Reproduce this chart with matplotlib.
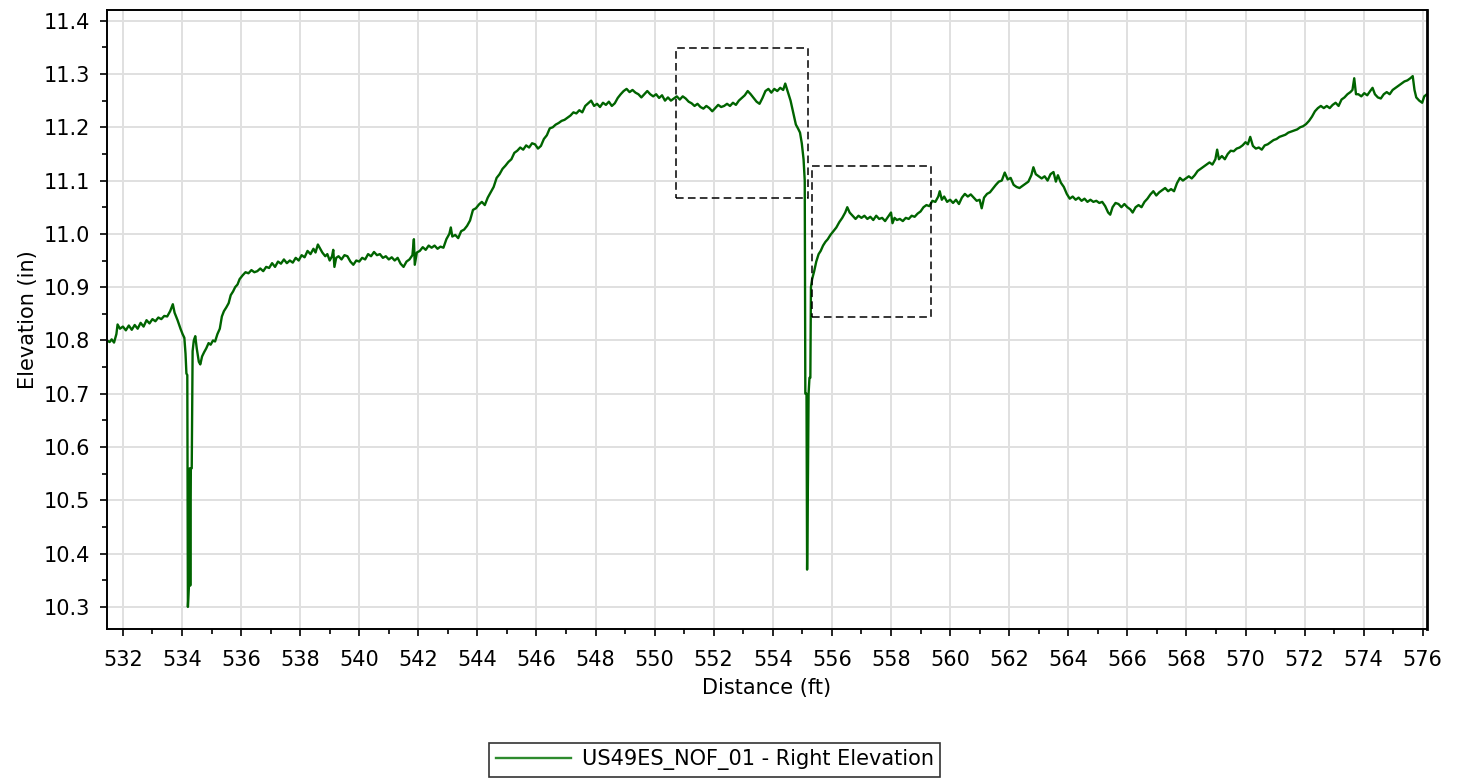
import matplotlib
matplotlib.use("Agg")
import matplotlib.pyplot as plt
from matplotlib.patches import Rectangle
from matplotlib.ticker import MultipleLocator

# data (distance in ft, elevation in in)
dist = [
    531.46, 531.55, 531.62, 531.70, 531.78, 531.82, 531.90, 532.00, 532.10, 532.20,
    532.30, 532.40, 532.50, 532.60, 532.70, 532.80, 532.90, 533.00, 533.10, 533.20,
    533.30, 533.40, 533.50, 533.60, 533.69, 533.75, 533.85, 533.95, 534.02, 534.08,
    534.12, 534.15, 534.18, 534.20, 534.24, 534.26, 534.28, 534.30, 534.33, 534.36,
    534.40, 534.45, 534.50, 534.57, 534.62, 534.68, 534.75, 534.82, 534.90, 534.97,
    535.05, 535.12, 535.20, 535.28, 535.35, 535.42, 535.50, 535.58, 535.65, 535.73,
    535.80, 535.88, 535.95, 536.05, 536.15, 536.25, 536.35, 536.45, 536.55, 536.65,
    536.75, 536.85, 536.95, 537.05, 537.15, 537.25, 537.35, 537.45, 537.55, 537.65,
    537.75, 537.85, 537.95, 538.05, 538.15, 538.25, 538.35, 538.45, 538.52, 538.60,
    538.68, 538.75, 538.85, 538.92, 539.00, 539.08, 539.12, 539.16, 539.22, 539.30,
    539.40, 539.50, 539.60, 539.70, 539.80, 539.90, 540.00, 540.10, 540.20, 540.30,
    540.40, 540.50, 540.60, 540.70, 540.80, 540.90, 541.00, 541.10, 541.20, 541.30,
    541.40, 541.50, 541.60, 541.70, 541.80, 541.85, 541.88, 541.95, 542.05, 542.15,
    542.25, 542.35, 542.45, 542.55, 542.65, 542.75, 542.85, 542.95, 543.05, 543.10,
    543.15, 543.25, 543.35, 543.45, 543.55, 543.65, 543.75, 543.85, 543.95, 544.05,
    544.15, 544.25, 544.35, 544.45, 544.55, 544.65, 544.75, 544.85, 544.95, 545.05,
    545.15, 545.25, 545.35, 545.45, 545.55, 545.65, 545.75, 545.85, 545.95, 546.05,
    546.15, 546.25, 546.35, 546.45, 546.55, 546.65, 546.75, 546.85, 546.95, 547.05,
    547.15, 547.25, 547.35, 547.45, 547.55, 547.65, 547.75, 547.85, 547.95, 548.05,
    548.15, 548.25, 548.35, 548.45, 548.55, 548.65, 548.75, 548.85, 548.95, 549.05,
    549.15, 549.25, 549.35, 549.45, 549.55, 549.65, 549.75, 549.85, 549.95, 550.05,
    550.15, 550.25, 550.35, 550.45, 550.55, 550.65, 550.75, 550.85, 550.95, 551.05,
    551.15, 551.25, 551.35, 551.45, 551.55, 551.65, 551.75, 551.85, 551.95, 552.05,
    552.15, 552.25, 552.35, 552.45, 552.55, 552.65, 552.75, 552.85, 552.95, 553.05,
    553.15, 553.25, 553.35, 553.45, 553.55, 553.65, 553.75, 553.85, 553.95, 554.05,
    554.15, 554.25, 554.35, 554.42, 554.50, 554.60, 554.70, 554.78, 554.85, 554.92,
    554.98, 555.04, 555.08, 555.10, 555.14, 555.16, 555.19, 555.21, 555.24, 555.27,
    555.29, 555.33, 555.40, 555.47, 555.55, 555.62, 555.70, 555.78, 555.86, 555.95,
    556.05, 556.15, 556.25, 556.35, 556.45, 556.52, 556.60, 556.70, 556.80, 556.90,
    557.00, 557.10, 557.20, 557.30, 557.40, 557.50, 557.60, 557.70, 557.80, 557.90,
    558.00, 558.05, 558.12, 558.20, 558.30, 558.40, 558.50, 558.60, 558.70, 558.80,
    558.90, 559.00, 559.10, 559.20, 559.30, 559.40, 559.50, 559.60, 559.65, 559.72,
    559.80, 559.90, 560.00, 560.10, 560.20, 560.30, 560.40, 560.50, 560.60, 560.70,
    560.80, 560.90, 561.00, 561.07, 561.15, 561.25, 561.35, 561.45, 561.55, 561.65,
    561.75, 561.85, 561.95, 562.05, 562.15, 562.25, 562.35, 562.45, 562.55, 562.65,
    562.75, 562.82, 562.90, 563.00, 563.10, 563.20, 563.30, 563.40, 563.50, 563.58,
    563.65, 563.75, 563.85, 563.95, 564.05, 564.15, 564.25, 564.35, 564.45, 564.55,
    564.65, 564.75, 564.85, 564.95, 565.05, 565.15, 565.25, 565.35, 565.42, 565.50,
    565.60, 565.70, 565.80, 565.90, 566.00, 566.10, 566.18, 566.28, 566.38, 566.48,
    566.58, 566.68, 566.78, 566.88, 566.98, 567.08, 567.18, 567.28, 567.38, 567.48,
    567.58, 567.68, 567.78, 567.88, 567.98, 568.08, 568.18, 568.28, 568.38, 568.48,
    568.58, 568.68, 568.78, 568.88, 568.98, 569.04, 569.10, 569.20, 569.30, 569.40,
    569.50, 569.60, 569.70, 569.80, 569.90, 570.00, 570.08, 570.16, 570.25, 570.35,
    570.45, 570.55, 570.65, 570.75, 570.85, 570.95, 571.05, 571.15, 571.25, 571.35,
    571.45, 571.55, 571.65, 571.75, 571.85, 571.95, 572.05, 572.15, 572.25, 572.35,
    572.45, 572.55, 572.65, 572.75, 572.85, 572.95, 573.05, 573.15, 573.25, 573.35,
    573.45, 573.55, 573.62, 573.68, 573.74, 573.82, 573.92, 574.02, 574.12, 574.22,
    574.30, 574.38, 574.48, 574.58, 574.68, 574.78, 574.88, 574.98, 575.08, 575.18,
    575.28, 575.38, 575.48, 575.58, 575.66, 575.72, 575.78, 575.88, 575.98, 576.05,
    576.14,
]
elev = [
    10.800, 10.797, 10.802, 10.796, 10.812, 10.830, 10.822, 10.826, 10.819, 10.828,
    10.820, 10.829, 10.822, 10.833, 10.826, 10.838, 10.832, 10.840, 10.836, 10.843,
    10.840, 10.846, 10.845, 10.855, 10.868, 10.852, 10.838, 10.822, 10.812, 10.805,
    10.775, 10.738, 10.735, 10.300, 10.345, 10.560, 10.340, 10.560, 10.560, 10.780,
    10.800, 10.808, 10.785, 10.760, 10.755, 10.770, 10.778, 10.785, 10.795, 10.792,
    10.800, 10.798, 10.812, 10.822, 10.845, 10.855, 10.862, 10.870, 10.885, 10.892,
    10.900, 10.905, 10.915, 10.922, 10.928, 10.926, 10.932, 10.928, 10.930, 10.935,
    10.930, 10.938, 10.936, 10.945, 10.938, 10.948, 10.944, 10.952, 10.945, 10.950,
    10.946, 10.955, 10.950, 10.960, 10.956, 10.968, 10.962, 10.972, 10.965, 10.980,
    10.972, 10.965, 10.958, 10.962, 10.950, 10.958, 10.970, 10.938, 10.955, 10.958,
    10.952, 10.960, 10.958, 10.948, 10.942, 10.950, 10.948, 10.955, 10.952, 10.962,
    10.958, 10.966, 10.960, 10.962, 10.955, 10.958, 10.952, 10.956, 10.950, 10.955,
    10.944, 10.938, 10.948, 10.952, 10.960, 10.990, 10.942, 10.965, 10.968, 10.975,
    10.970, 10.978, 10.974, 10.978, 10.972, 10.976, 10.974, 10.990, 11.000, 11.012,
    10.995, 10.998, 10.992, 11.005, 11.008, 11.015, 11.025, 11.045, 11.048, 11.055,
    11.060, 11.054, 11.068, 11.078, 11.088, 11.105, 11.112, 11.122, 11.128, 11.135,
    11.140, 11.152, 11.156, 11.162, 11.158, 11.166, 11.162, 11.170, 11.168, 11.160,
    11.165, 11.178, 11.185, 11.198, 11.200, 11.205, 11.208, 11.212, 11.214, 11.218,
    11.222, 11.228, 11.226, 11.232, 11.228, 11.240, 11.245, 11.250, 11.240, 11.244,
    11.238, 11.246, 11.242, 11.248, 11.240, 11.245, 11.255, 11.262, 11.268, 11.272,
    11.266, 11.270, 11.265, 11.262, 11.256, 11.262, 11.268, 11.262, 11.258, 11.262,
    11.255, 11.260, 11.250, 11.256, 11.250, 11.254, 11.258, 11.252, 11.258, 11.254,
    11.248, 11.245, 11.240, 11.244, 11.238, 11.235, 11.240, 11.236, 11.230, 11.236,
    11.242, 11.238, 11.240, 11.244, 11.240, 11.246, 11.242, 11.250, 11.255, 11.260,
    11.268, 11.262, 11.255, 11.248, 11.244, 11.255, 11.268, 11.272, 11.265, 11.272,
    11.268, 11.274, 11.270, 11.282, 11.268, 11.250, 11.225, 11.205, 11.198, 11.190,
    11.170, 11.140, 11.100, 10.700, 10.700, 10.370, 10.550, 10.700, 10.730, 10.730,
    10.900, 10.915, 10.930, 10.948, 10.962, 10.968, 10.978, 10.985, 10.990, 10.998,
    11.005, 11.012, 11.022, 11.030, 11.040, 11.050, 11.040, 11.034, 11.028, 11.034,
    11.030, 11.034, 11.028, 11.032, 11.026, 11.034, 11.028, 11.030, 11.024, 11.032,
    11.040, 11.020, 11.030, 11.026, 11.028, 11.024, 11.030, 11.028, 11.034, 11.032,
    11.038, 11.042, 11.050, 11.054, 11.052, 11.062, 11.060, 11.070, 11.080, 11.064,
    11.070, 11.060, 11.064, 11.058, 11.064, 11.056, 11.068, 11.075, 11.070, 11.074,
    11.068, 11.062, 11.064, 11.048, 11.068, 11.075, 11.078, 11.085, 11.092, 11.098,
    11.100, 11.115, 11.102, 11.105, 11.092, 11.088, 11.086, 11.090, 11.094, 11.098,
    11.110, 11.125, 11.112, 11.108, 11.104, 11.108, 11.100, 11.112, 11.116, 11.098,
    11.110, 11.096, 11.088, 11.075, 11.066, 11.070, 11.064, 11.068, 11.062, 11.066,
    11.060, 11.064, 11.060, 11.062, 11.058, 11.060, 11.052, 11.040, 11.036, 11.050,
    11.058, 11.056, 11.050, 11.056, 11.050, 11.046, 11.040, 11.050, 11.054, 11.050,
    11.060, 11.066, 11.074, 11.080, 11.072, 11.078, 11.082, 11.086, 11.080, 11.084,
    11.080, 11.095, 11.105, 11.100, 11.104, 11.108, 11.104, 11.110, 11.118, 11.122,
    11.126, 11.130, 11.134, 11.130, 11.140, 11.158, 11.140, 11.146, 11.140, 11.150,
    11.156, 11.155, 11.160, 11.162, 11.166, 11.172, 11.168, 11.182, 11.165, 11.160,
    11.162, 11.158, 11.166, 11.168, 11.172, 11.176, 11.178, 11.182, 11.184, 11.186,
    11.190, 11.192, 11.194, 11.196, 11.200, 11.202, 11.206, 11.212, 11.220, 11.230,
    11.236, 11.240, 11.236, 11.240, 11.236, 11.242, 11.246, 11.240, 11.252, 11.256,
    11.262, 11.266, 11.270, 11.292, 11.262, 11.262, 11.258, 11.264, 11.260, 11.268,
    11.274, 11.262, 11.256, 11.254, 11.262, 11.266, 11.262, 11.270, 11.274, 11.278,
    11.282, 11.286, 11.288, 11.292, 11.296, 11.270, 11.256, 11.250, 11.246, 11.258,
    11.262,
]

# dashed highlight boxes: (x0, x1, y0, y1)
box_a = [550.73, 555.20, 11.067, 11.349]
box_b = [555.33, 559.36, 10.844, 11.127]

series_label = "US49ES_NOF_01 - Right Elevation"

plt.rcParams['font.family'] = ['DejaVu Sans']
fs = 15

fig = plt.figure(figsize=(14.59, 7.83), dpi=100)
ax = fig.add_axes([0.0733, 0.1963, 0.9047, 0.7909])

ax.plot(dist, elev, color='#006400', lw=1.7, label=series_label)

for x0, x1, y0, y1 in (box_a, box_b):
    ax.add_patch(Rectangle((x0, y0), x1 - x0, y1 - y0, fill=False,
                           edgecolor='black', lw=1.1,
                           linestyle=(0, (5, 2.8)), zorder=3))

ax.set_xlim(531.46, 576.14)
ax.set_ylim(10.258, 11.42)

ax.xaxis.set_major_locator(MultipleLocator(2))
ax.xaxis.set_minor_locator(MultipleLocator(1))
ax.yaxis.set_major_locator(MultipleLocator(0.1))
ax.yaxis.set_minor_locator(MultipleLocator(0.05))
ax.yaxis.set_major_formatter(matplotlib.ticker.FormatStrFormatter('%.1f'))

ax.grid(True, which='major', color='#e0e0e0', lw=1.4)
ax.set_axisbelow(True)

ax.tick_params(which='major', direction='out', length=5, width=1.2,
               labelsize=fs, pad=7)
ax.tick_params(which='minor', direction='out', length=3.5, width=1.2)
ax.tick_params(axis='x', which='major', pad=10)

for s in ax.spines.values():
    s.set_linewidth(1.4)
    s.set_color('black')
ax.spines['right'].set_linewidth(2)

ax.set_xlabel("Distance (ft)", fontsize=fs, labelpad=6)
ax.set_ylabel("Elevation (in)", fontsize=fs, labelpad=4)

leg = fig.legend(loc='center', bbox_to_anchor=(0.49, 0.0294), fontsize=fs,
                 frameon=True, fancybox=False, handlelength=3.6,
                 handletextpad=0.55, borderpad=0.3, borderaxespad=0)
leg.get_frame().set_edgecolor('black')
leg.get_frame().set_linewidth(1.2)
leg.get_lines()[0].set_color('#2e8b2e')

fig.savefig("out.png", dpi=100)
